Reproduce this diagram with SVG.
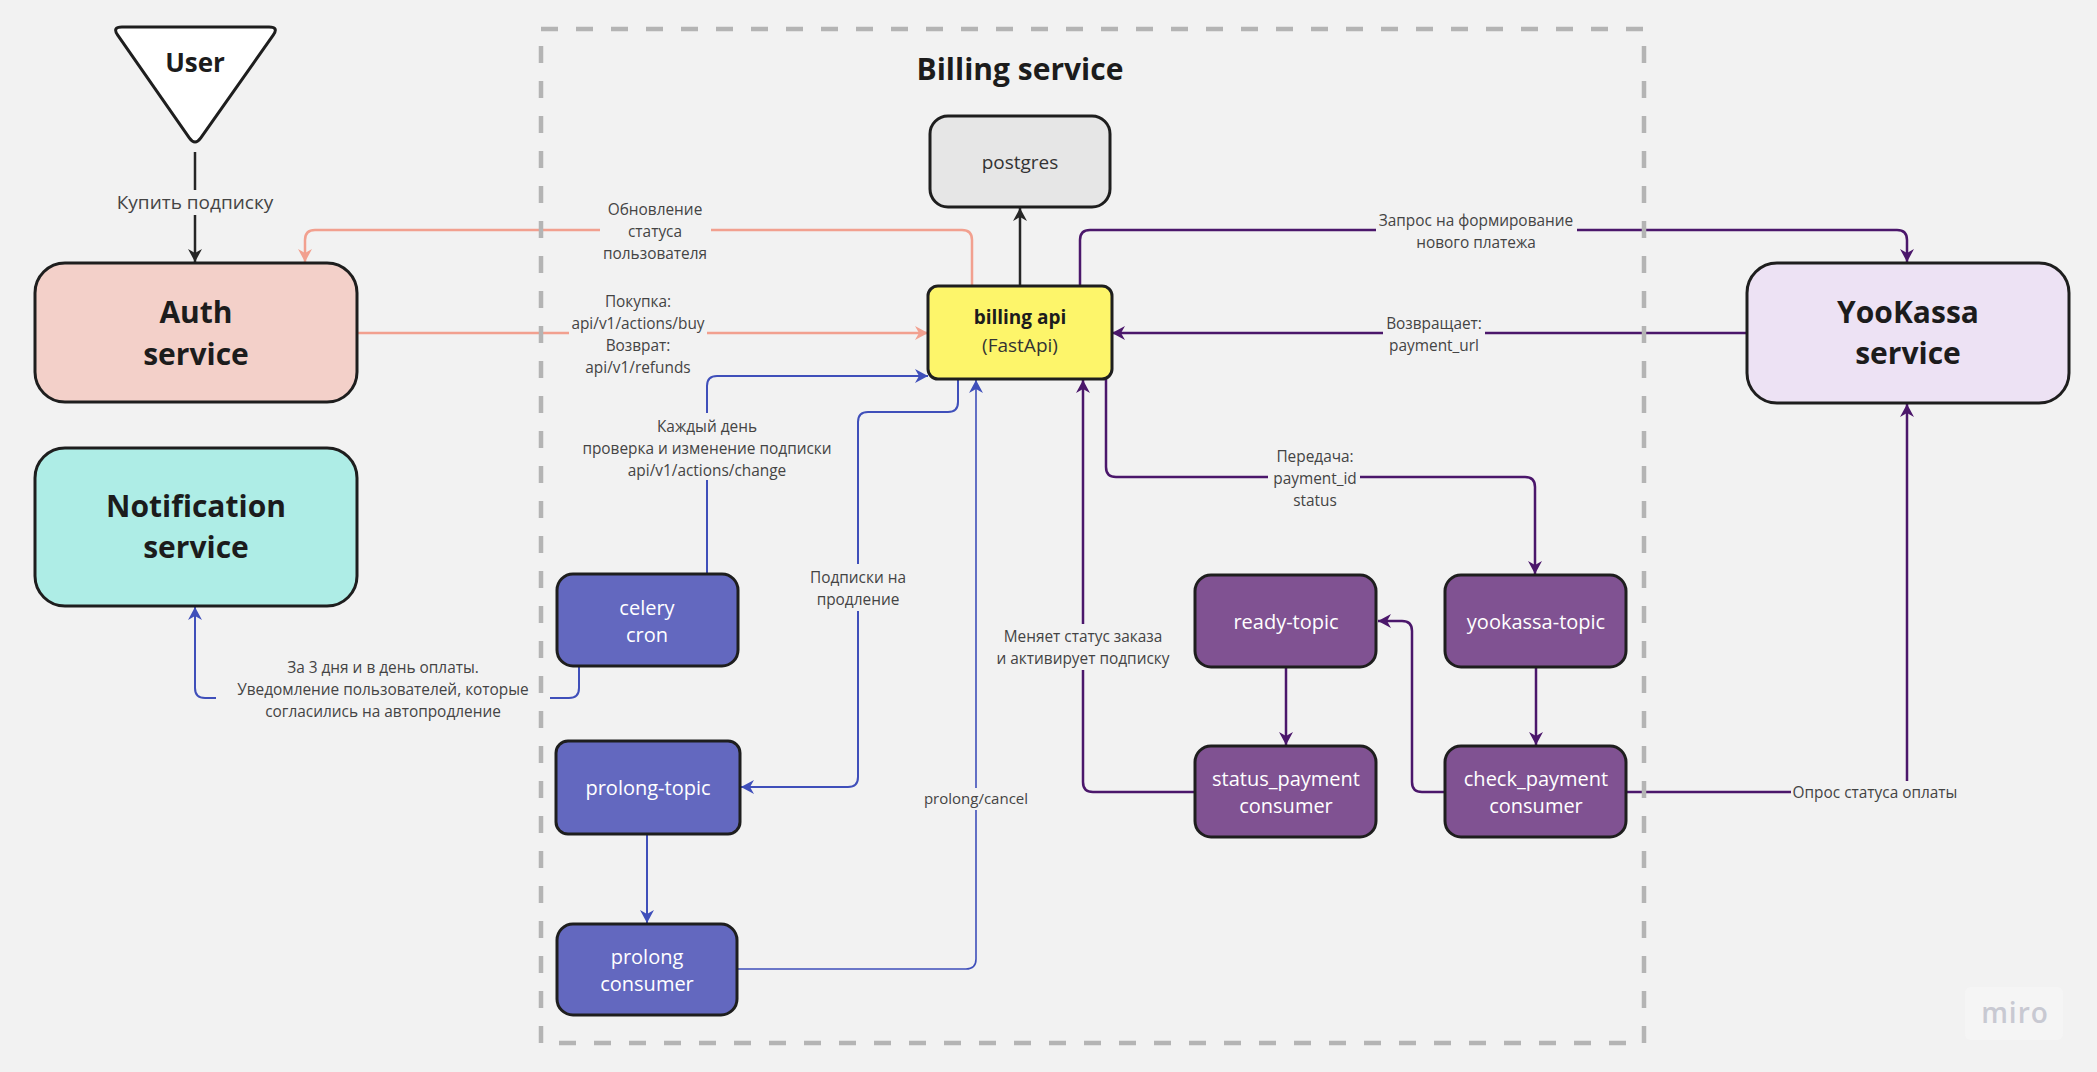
<svg xmlns="http://www.w3.org/2000/svg" width="2097" height="1072" viewBox="0 0 2097 1072">
<defs>
<style>
text{font-family:"Open Sans","Noto Sans","DejaVu Sans",sans-serif}
.node{stroke:#1e1e1e;stroke-width:3}
.t{font-size:30px;font-weight:700;fill:#1c1c1c;text-anchor:middle}
.w{font-size:20px;fill:#ffffff;text-anchor:middle}
.lbl{font-size:15.4px;fill:#444444;text-anchor:middle}
.bg{fill:#f2f2f2}
.c{fill:none;stroke-width:2.5}
.k{stroke:#262626}
.p{stroke:#f2a08f}
.b{stroke:#3f4fba;stroke-width:2}
.v{stroke:#4b176b}
</style>
<marker id="ak" viewBox="-14 -8 15 16" markerWidth="15" markerHeight="16" refX="0" refY="0" orient="auto" markerUnits="userSpaceOnUse"><path d="M-13,-7 L0,0 L-13,7 L-9,0 z" fill="#262626"/></marker>
<marker id="ap" viewBox="-14 -8 15 16" markerWidth="15" markerHeight="16" refX="0" refY="0" orient="auto" markerUnits="userSpaceOnUse"><path d="M-13,-7 L0,0 L-13,7 L-9,0 z" fill="#f2a08f"/></marker>
<marker id="ab" viewBox="-14 -8 15 16" markerWidth="15" markerHeight="16" refX="0" refY="0" orient="auto" markerUnits="userSpaceOnUse"><path d="M-13,-7 L0,0 L-13,7 L-9,0 z" fill="#3f4fba"/></marker>
<marker id="av" viewBox="-14 -8 15 16" markerWidth="15" markerHeight="16" refX="0" refY="0" orient="auto" markerUnits="userSpaceOnUse"><path d="M-13,-7 L0,0 L-13,7 L-9,0 z" fill="#4b176b"/></marker>
</defs>
<rect width="2097" height="1072" fill="#f2f2f2"/>

<g id="connectors">
  <!-- User -> Auth -->
  <path class="c k" d="M195,152 V262" marker-end="url(#ak)"/>
  <rect class="bg" x="112" y="190" width="166" height="25"/>
  <text class="lbl" x="195" y="209" style="font-size:19px">Купить подписку</text>

  <!-- billing api -> postgres -->
  <path class="c k" d="M1020,286 V208" marker-end="url(#ak)"/>

  <!-- billing api -> Auth (status update) -->
  <path class="c p" d="M972,286 V240 Q972,230 962,230 H315 Q305,230 305,240 V262" marker-end="url(#ap)"/>
  <rect class="bg" x="600" y="198" width="111" height="66"/>
  <text class="lbl" x="655" y="215">Обновление</text>
  <text class="lbl" x="655" y="237">статуса</text>
  <text class="lbl" x="655" y="259">пользователя</text>

  <!-- Auth -> billing api -->
  <path class="c p" d="M357,333 H928" marker-end="url(#ap)"/>
  <rect class="bg" x="569" y="289" width="138" height="90"/>
  <text class="lbl" x="638" y="307">Покупка:</text>
  <text class="lbl" x="638" y="329">api/v1/actions/buy</text>
  <text class="lbl" x="638" y="351">Возврат:</text>
  <text class="lbl" x="638" y="373">api/v1/refunds</text>

  <!-- celery cron -> billing api -->
  <path class="c b" d="M707,574 V386 Q707,376 717,376 H928" marker-end="url(#ab)"/>
  <rect class="bg" x="580" y="413" width="254" height="67"/>
  <text class="lbl" x="707" y="432">Каждый день</text>
  <text class="lbl" x="707" y="454">проверка и изменение подписки</text>
  <text class="lbl" x="707" y="476">api/v1/actions/change</text>

  <!-- billing api -> prolong-topic -->
  <path class="c b" d="M958,379 V402 Q958,412 948,412 H868 Q858,412 858,422 V777 Q858,787 848,787 H741" marker-end="url(#ab)"/>
  <rect class="bg" x="808" y="564" width="100" height="47"/>
  <text class="lbl" x="858" y="583">Подписки на</text>
  <text class="lbl" x="858" y="605">продление</text>

  <!-- prolong-topic -> prolong consumer -->
  <path class="c b" d="M647,834 V923" marker-end="url(#ab)"/>

  <!-- prolong consumer -> billing api -->
  <path class="c b" style="stroke-width:1.6" d="M737,969 H966 Q976,969 976,959 V380" marker-end="url(#ab)"/>
  <rect class="bg" x="922" y="788" width="108" height="22"/>
  <text class="lbl" x="976" y="804" style="font-size:15px">prolong/cancel</text>

  <!-- celery cron -> Notification -->
  <path class="c b" d="M579,666 V688 Q579,698 569,698 H205 Q195,698 195,688 V607" marker-end="url(#ab)"/>
  <rect class="bg" x="216" y="654" width="334" height="68"/>
  <text class="lbl" x="383" y="673">За 3 дня и в день оплаты.</text>
  <text class="lbl" x="383" y="695">Уведомление пользователей, которые</text>
  <text class="lbl" x="383" y="717">согласились на автопродление</text>

  <!-- billing api -> YooKassa -->
  <path class="c v" d="M1080,286 V240 Q1080,230 1090,230 H1897 Q1907,230 1907,240 V262" marker-end="url(#av)"/>
  <rect class="bg" x="1376" y="208" width="201" height="46"/>
  <text class="lbl" x="1476" y="226">Запрос на формирование</text>
  <text class="lbl" x="1476" y="248">нового платежа</text>

  <!-- YooKassa -> billing api -->
  <path class="c v" d="M1747,333 H1112" marker-end="url(#av)"/>
  <rect class="bg" x="1383" y="311" width="102" height="46"/>
  <text class="lbl" x="1434" y="329">Возвращает:</text>
  <text class="lbl" x="1434" y="351">payment_url</text>

  <!-- billing api -> yookassa-topic -->
  <path class="c v" d="M1106,379 V467 Q1106,477 1116,477 H1525 Q1535,477 1535,487 V574" marker-end="url(#av)"/>
  <rect class="bg" x="1268" y="444" width="92" height="68"/>
  <text class="lbl" x="1315" y="462">Передача:</text>
  <text class="lbl" x="1315" y="484">payment_id</text>
  <text class="lbl" x="1315" y="506">status</text>

  <!-- status_payment consumer -> billing api -->
  <path class="c v" d="M1195,792 H1093 Q1083,792 1083,782 V380" marker-end="url(#av)"/>
  <rect class="bg" x="995" y="624" width="177" height="46"/>
  <text class="lbl" x="1083" y="642">Меняет статус заказа</text>
  <text class="lbl" x="1083" y="664">и активирует подписку</text>

  <!-- ready-topic -> status_payment consumer -->
  <path class="c v" d="M1286,667 V745" marker-end="url(#av)"/>
  <!-- yookassa-topic -> check_payment consumer -->
  <path class="c v" d="M1536,667 V745" marker-end="url(#av)"/>
  <!-- check_payment -> ready-topic -->
  <path class="c v" d="M1445,792 H1422 Q1412,792 1412,782 V631 Q1412,621 1402,621 H1378" marker-end="url(#av)"/>
  <!-- check_payment -> YooKassa -->
  <path class="c v" d="M1625,792 H1897 Q1907,792 1907,782 V404" marker-end="url(#av)"/>
  <rect class="bg" x="1791" y="781" width="168" height="25"/>
  <text class="lbl" x="1875" y="798">Опрос статуса оплаты</text>
</g>

<g id="billing-frame">
  <rect x="541" y="29" width="1103" height="1014" fill="none" stroke="#b4b4b4" stroke-width="4.5" stroke-dasharray="17 18"/>
  <text x="1020" y="80" style="font-size:30px;font-weight:700;fill:#1c1c1c;text-anchor:middle">Billing service</text>
</g>

<g id="user">
  <path class="node" fill="#ffffff" d="M122,27 L269,27 Q279,27 273.2,35.2 L200.8,137.8 Q195,146 189.3,137.8 L117.7,35.2 Q112,27 122,27 Z"/>
  <text x="195" y="72" style="font-size:26px;font-weight:700;fill:#1c1c1c;text-anchor:middle">User</text>
</g>

<g id="auth-service">
  <rect class="node" x="35" y="263" width="322" height="139" rx="30" fill="#f3d0c9"/>
  <text class="t" x="196" y="323">Auth</text>
  <text class="t" x="196" y="365">service</text>
</g>

<g id="notification-service">
  <rect class="node" x="35" y="448" width="322" height="158" rx="30" fill="#aeede6"/>
  <text class="t" x="196" y="517">Notification</text>
  <text class="t" x="196" y="558">service</text>
</g>

<g id="yookassa-service">
  <rect class="node" x="1747" y="263" width="322" height="140" rx="30" fill="#ede2f4"/>
  <text class="t" x="1908" y="323">YooKassa</text>
  <text class="t" x="1908" y="364">service</text>
</g>

<g id="postgres">
  <rect class="node" x="930" y="116" width="180" height="91" rx="18" fill="#e6e6e6"/>
  <text x="1020" y="169" style="font-size:19px;fill:#333333;text-anchor:middle">postgres</text>
</g>

<g id="billing-api">
  <rect class="node" x="928" y="286" width="184" height="93" rx="10" fill="#fdf56a"/>
  <text x="1020" y="324" style="font-size:19px;font-weight:700;fill:#1c1c1c;text-anchor:middle">billing api</text>
  <text x="1020" y="352" style="font-size:19px;fill:#333333;text-anchor:middle">(FastApi)</text>
</g>

<g id="celery-cron">
  <rect class="node" x="557" y="574" width="181" height="92" rx="16" fill="#6368bf"/>
  <text class="w" x="647" y="615">celery</text>
  <text class="w" x="647" y="642">cron</text>
</g>

<g id="prolong-topic">
  <rect class="node" x="556" y="741" width="184" height="93" rx="12" fill="#6368bf"/>
  <text class="w" x="648" y="795">prolong-topic</text>
</g>

<g id="prolong-consumer">
  <rect class="node" x="557" y="924" width="180" height="91" rx="16" fill="#6368bf"/>
  <text class="w" x="647" y="964">prolong</text>
  <text class="w" x="647" y="991">consumer</text>
</g>

<g id="ready-topic">
  <rect class="node" x="1195" y="575" width="181" height="92" rx="16" fill="#805292"/>
  <text class="w" x="1286" y="629">ready-topic</text>
</g>

<g id="yookassa-topic">
  <rect class="node" x="1445" y="575" width="181" height="92" rx="16" fill="#805292"/>
  <text class="w" x="1536" y="629">yookassa-topic</text>
</g>

<g id="status-payment-consumer">
  <rect class="node" x="1195" y="746" width="181" height="91" rx="16" fill="#805292"/>
  <text class="w" x="1286" y="786">status_payment</text>
  <text class="w" x="1286" y="813">consumer</text>
</g>

<g id="check-payment-consumer">
  <rect class="node" x="1445" y="746" width="181" height="91" rx="16" fill="#805292"/>
  <text class="w" x="1536" y="786">check_payment</text>
  <text class="w" x="1536" y="813">consumer</text>
</g>

<g id="watermark">
  <rect x="1965" y="987" width="98" height="53" rx="6" fill="#f5f5f5"/>
  <text x="2015" y="1023" style="font-size:28px;font-weight:600;fill:#c8c9d2;text-anchor:middle;letter-spacing:1px">miro</text>
</g>
</svg>
